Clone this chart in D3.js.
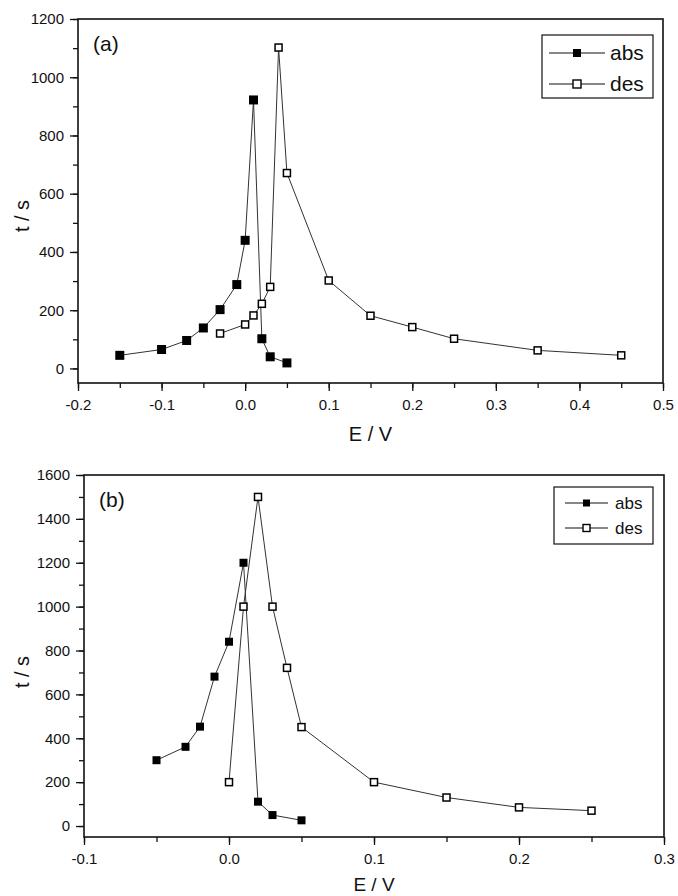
<!DOCTYPE html>
<meta charset="utf-8">
<script src="https://d3js.org/d3.v7.min.js"></script>
<style>
body { margin: 0; background: #fff; }
text { font-family: "Liberation Sans", Arial, sans-serif; fill: #111; }
</style>
<body>
<div id="chart"></div>
<script>
// panel (a)
var absA_E = [-0.15, -0.1, -0.07, -0.05, -0.03, -0.01, 0.0, 0.01, 0.02, 0.03, 0.05];
var absA_t = [45, 65, 96, 139, 202, 288, 440, 922, 102, 40, 19];
var desA_E = [-0.03, 0.0, 0.01, 0.02, 0.03, 0.04, 0.05, 0.1, 0.15, 0.2, 0.25, 0.35, 0.45];
var desA_t = [120, 151, 182, 222, 280, 1102, 671, 302, 181, 142, 102, 62, 45];
var xTicksA = [-0.2, -0.1, 0.0, 0.1, 0.2, 0.3, 0.4, 0.5];
var yTicksA = [0, 200, 400, 600, 800, 1000, 1200];

// panel (b)
var absB_E = [-0.05, -0.03, -0.02, -0.01, 0.0, 0.01, 0.02, 0.03, 0.05];
var absB_t = [300, 361, 453, 681, 840, 1200, 111, 50, 26];
var desB_E = [0.0, 0.01, 0.02, 0.03, 0.04, 0.05, 0.1, 0.15, 0.2, 0.25];
var desB_t = [200, 1000, 1500, 1000, 721, 451, 200, 130, 85, 70];
var xTicksB = [-0.1, 0.0, 0.1, 0.2, 0.3];
var yTicksB = [0, 200, 400, 600, 800, 1000, 1200, 1400, 1600];

var seriesNames = ["abs", "des"];

var W = 678, H = 896;
var svg = d3.select("#chart").append("svg")
    .attr("width", W).attr("height", H);

function zip(xs, ys) {
  return xs.map(function(x, i) { return {x: x, y: ys[i]}; });
}

function drawPanel(p) {
  var x = d3.scaleLinear().domain(p.xDom).range([p.left, p.right]);
  var y = d3.scaleLinear().domain(p.yDom).range([p.bottom, p.top]);
  var g = svg.append("g");

  // minor ticks
  var xMinor = d3.range(p.xDom[0], p.xDom[1] + 1e-9, 0.05);
  var yMinor = d3.range(0, p.yDom[1] + 1, 100);
  g.append("g")
    .attr("transform", "translate(0," + p.bottom + ")")
    .call(d3.axisBottom(x).tickValues(xMinor).tickSize(5).tickFormat("").tickSizeOuter(0))
    .call(function(s) { s.select(".domain").remove(); });
  g.append("g")
    .attr("transform", "translate(" + p.left + ",0)")
    .call(d3.axisLeft(y).tickValues(yMinor).tickSize(5).tickFormat("").tickSizeOuter(0))
    .call(function(s) { s.select(".domain").remove(); });

  // major ticks
  var xa = g.append("g")
    .attr("transform", "translate(0," + p.bottom + ")")
    .call(d3.axisBottom(x).tickValues(p.xTicks).tickSize(8).tickPadding(8)
      .tickFormat(function(d) { return d.toFixed(1); }).tickSizeOuter(0));
  var ya = g.append("g")
    .attr("transform", "translate(" + p.left + ",0)")
    .call(d3.axisLeft(y).tickValues(p.yTicks).tickSize(8).tickPadding(6)
      .tickFormat(function(d) { return d; }).tickSizeOuter(0));
  [xa, ya].forEach(function(a) {
    a.select(".domain").remove();
    a.selectAll("text").attr("font-size", 15).attr("font-family", null).attr("fill", "#111");
  });
  g.selectAll(".tick line").attr("stroke", "#111").attr("stroke-width", 1.3);

  // frame
  g.append("rect")
    .attr("x", p.left).attr("y", p.top)
    .attr("width", p.right - p.left).attr("height", p.bottom - p.top)
    .attr("fill", "none").attr("stroke", "#111").attr("stroke-width", 1.6);

  var line = d3.line().x(function(d) { return x(d.x); }).y(function(d) { return y(d.y); });

  var abs = zip(p.absE, p.absT), des = zip(p.desE, p.desT);
  g.append("path").datum(abs).attr("d", line)
    .attr("fill", "none").attr("stroke", "#333").attr("stroke-width", 1);
  g.append("path").datum(des).attr("d", line)
    .attr("fill", "none").attr("stroke", "#333").attr("stroke-width", 1);

  var fs = p.fillSize, os = p.openSize;
  g.selectAll(".abs").data(abs).enter().append("rect")
    .attr("x", function(d) { return x(d.x) - fs / 2; })
    .attr("y", function(d) { return y(d.y) - fs / 2; })
    .attr("width", fs).attr("height", fs).attr("fill", "#000");
  g.selectAll(".des").data(des).enter().append("rect")
    .attr("x", function(d) { return x(d.x) - os / 2; })
    .attr("y", function(d) { return y(d.y) - os / 2; })
    .attr("width", os).attr("height", os)
    .attr("fill", "#fff").attr("stroke", "#000").attr("stroke-width", 1.5);

  // panel label
  g.append("text").attr("x", p.left + 15).attr("y", p.top + 32)
    .attr("font-size", 21).text(p.label);

  // axis titles
  g.append("text")
    .attr("transform", "translate(" + 29 + "," + p.yTitleY + ") rotate(-90)")
    .attr("text-anchor", "middle").attr("font-size", 20).text("t / s");
  g.append("text")
    .attr("x", (p.left + p.right) / 2).attr("y", p.xTitleY)
    .attr("text-anchor", "middle").attr("font-size", p.xTitleSize).text("E / V");

  // legend
  var L = p.legend;
  g.append("rect").attr("x", L.x).attr("y", L.y).attr("width", L.w).attr("height", L.h)
    .attr("fill", "#fff").attr("stroke", "#111").attr("stroke-width", 1.2);
  seriesNames.forEach(function(name, i) {
    var cy = L.y + L.row0 + i * L.dy;
    g.append("line").attr("x1", L.lx1).attr("x2", L.lx2).attr("y1", cy).attr("y2", cy)
      .attr("stroke", "#111").attr("stroke-width", 1.2);
    var mx = (L.lx1 + L.lx2) / 2, ms = L.ms;
    g.append("rect").attr("x", mx - ms / 2).attr("y", cy - ms / 2)
      .attr("width", ms).attr("height", ms)
      .attr("fill", i === 0 ? "#000" : "#fff")
      .attr("stroke", i === 0 ? "none" : "#000").attr("stroke-width", 1.4);
    g.append("text").attr("x", L.tx).attr("y", cy).attr("dy", "0.35em")
      .attr("font-size", L.fs).text(name);
  });
}

drawPanel({
  xDom: [-0.2, 0.5], yDom: [-50, 1200],
  left: 78, right: 663, top: 19, bottom: 383,
  xTicks: xTicksA, yTicks: yTicksA,
  absE: absA_E, absT: absA_t, desE: desA_E, desT: desA_t,
  fillSize: 9, openSize: 7,
  label: "(a)", yTitleY: 216, xTitleY: 441, xTitleSize: 20,
  legend: {x: 542, y: 35, w: 111, h: 63, row0: 18, dy: 31,
           lx1: 549, lx2: 605, tx: 610, ms: 8, fs: 21}
});

drawPanel({
  xDom: [-0.1, 0.3], yDom: [-50, 1600],
  left: 84, right: 664, top: 475, bottom: 837,
  xTicks: xTicksB, yTicks: yTicksB,
  absE: absB_E, absT: absB_t, desE: desB_E, desT: desB_t,
  fillSize: 8, openSize: 7,
  label: "(b)", yTitleY: 672, xTitleY: 891, xTitleSize: 19,
  legend: {x: 554, y: 487, w: 99, h: 57, row0: 16, dy: 25,
           lx1: 565, lx2: 608, tx: 615, ms: 7, fs: 17}
});
</script>
</body>
